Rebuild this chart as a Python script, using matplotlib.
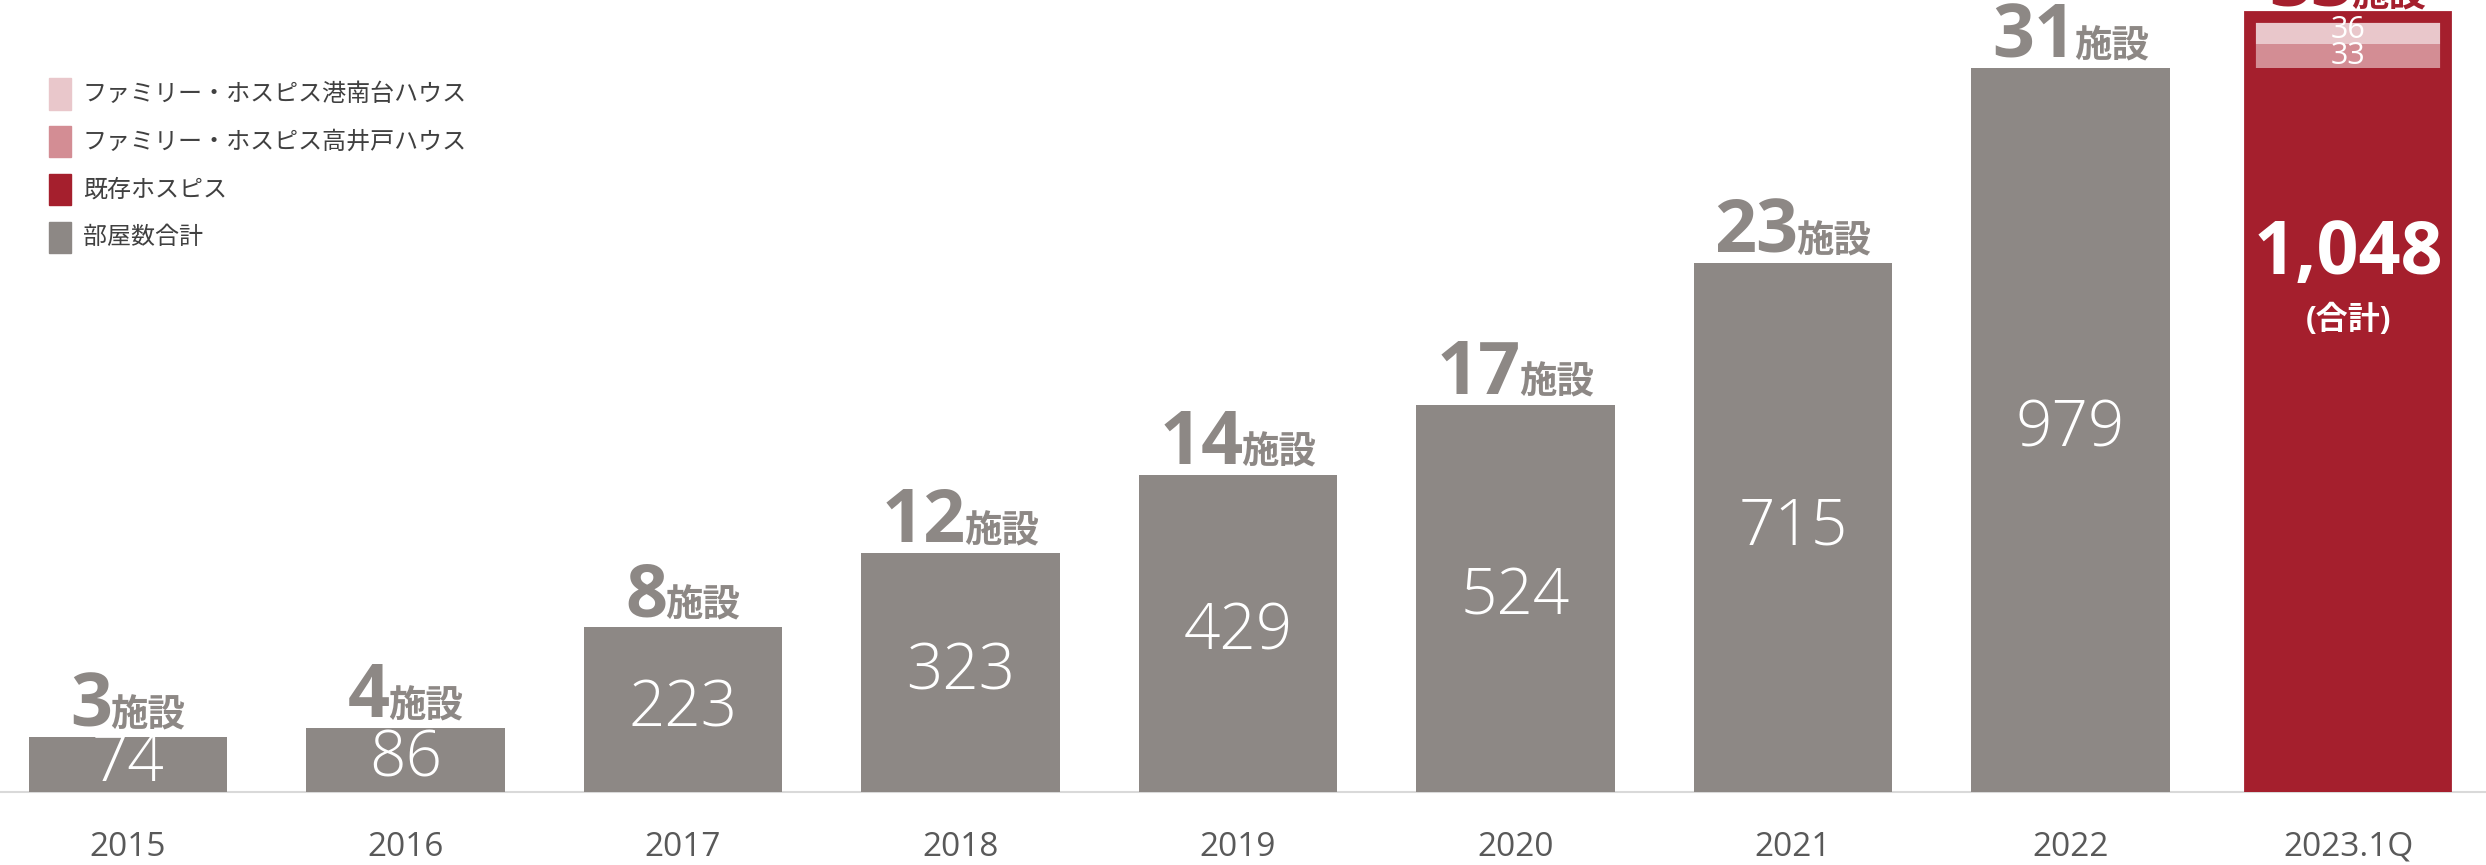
import matplotlib
matplotlib.use('Agg')
import matplotlib.pyplot as plt
from matplotlib.patches import Rectangle
from matplotlib.transforms import offset_copy, Bbox, TransformedBbox

plt.rcParams['font.family'] = ['Open Sans', 'Noto Sans CJK JP', 'DejaVu Sans']

# data
years = ['2015', '2016', '2017', '2018', '2019', '2020', '2021', '2022', '2023.1Q']
rooms = [74, 86, 223, 323, 429, 524, 715, 979]
facilities = [3, 4, 8, 12, 14, 17, 23, 31, 33]
existing_2023 = 979
takaido_2023 = 33
konandai_2023 = 36
legend_labels = ['ファミリー・ホスピス港南台ハウス', 'ファミリー・ホスピス高井戸ハウス', '既存ホスピス', '部屋数合計']

GRAY = '#8d8885'
RED = '#a51f2d'
PINK_LIGHT = '#e9c7cb'
PINK_MID = '#d38d94'
CJK = ['Noto Sans CJK JP', 'DejaVu Sans']

fig = plt.figure(figsize=(24.86, 8.65), dpi=100)
ax = fig.add_axes([0, 0, 1, 1])
ax.set_xlim(-0.461, 8.497)
ax.set_ylim(-98.7, 1071)
ax.axis('off')

n_hist = len(rooms)
xs = list(range(len(years)))

# gray bars
ax.bar(xs[:n_hist], rooms, width=0.715, color=GRAY, zorder=2)
for x, v in zip(xs[:n_hist], rooms):
    ax.text(x, v / 2, str(v), ha='center', va='center', color='white',
            fontsize=46, fontweight='light', zorder=3)

# 2023.1Q stacked bar
x23 = xs[-1]
total_2023 = existing_2023 + takaido_2023 + konandai_2023
ax.bar(x23, existing_2023, width=0.705, color=RED, zorder=2)
ax.bar(x23, takaido_2023, bottom=existing_2023, width=0.705, color=PINK_MID, zorder=2)
ax.bar(x23, konandai_2023, bottom=existing_2023 + takaido_2023, width=0.705,
       color=PINK_LIGHT, zorder=2)
frame = ax.bar(x23, total_2023, width=0.705, fill=False, edgecolor=RED,
               linewidth=8.5, zorder=2.5, joinstyle='miter')
clip = TransformedBbox(Bbox([[7.5, 0], [9.5, 1200]]), ax.transData)
for p in frame:
    p.set_clip_box(clip)
ax.text(x23, existing_2023 + takaido_2023 / 2, str(takaido_2023), ha='center', va='center',
        color='white', fontsize=22, zorder=4)
ax.text(x23, existing_2023 + takaido_2023 + konandai_2023 / 2, str(konandai_2023),
        ha='center', va='center', color='white', fontsize=22, zorder=4)
ax.text(x23, total_2023 * 0.693, f'{total_2023:,}', ha='center', va='center', color='white',
        fontsize=53, fontweight='bold', zorder=4)
ax.text(x23, total_2023 * 0.608, '(合計)', ha='center', va='center', color='white',
        fontsize=23, fontweight='bold', family=['Open Sans', 'Noto Sans CJK JP'], zorder=4)

# baseline
ax.axhline(0, color='#d9d9d9', lw=1.5, zorder=1)

# year labels
for x, y in zip(xs, years):
    ax.text(x, -75, y, ha='center', va='center', color='#595959', fontsize=24)

# facility count labels (big number + small 施設)
tops = rooms + [total_2023]
colors = [GRAY] * n_hist + [RED]
pairs = []
for x, top, n, c in zip(xs, tops, facilities, colors):
    t1 = ax.text(x, top, str(n), ha='left', va='baseline', color=c, fontsize=53,
                 fontweight='bold', zorder=4)
    t2 = ax.text(x, top, '施設', ha='left', va='baseline', color=c, fontsize=27,
                 fontweight='bold', family=CJK, zorder=4)
    pairs.append((t1, t2))
fig.canvas.draw()
r = fig.canvas.get_renderer()
for t1, t2 in pairs:
    w1 = t1.get_window_extent(r).width
    w2 = t2.get_window_extent(r).width
    gap = -2
    start = -(w1 + gap + w2) / 2
    t1.set_transform(offset_copy(ax.transData, fig, x=start, y=11, units='dots'))
    t2.set_transform(offset_copy(ax.transData, fig, x=start + w1 + gap, y=11, units='dots'))

# legend
leg_colors = [PINK_LIGHT, PINK_MID, RED, GRAY]
for i, (lab, col) in enumerate(zip(legend_labels, leg_colors)):
    yc = 1 - (94 + i * 47.7) / 865
    fig.patches.append(Rectangle((49 / 2486, yc - 15.5 / 865), 22 / 2486, 31 / 865,
                                 transform=fig.transFigure, color=col, figure=fig))
    fig.text(83 / 2486, yc, lab, ha='left', va='center', color='#404040', fontsize=17.3,
             family=CJK)

fig.savefig('out.png', dpi=100)
